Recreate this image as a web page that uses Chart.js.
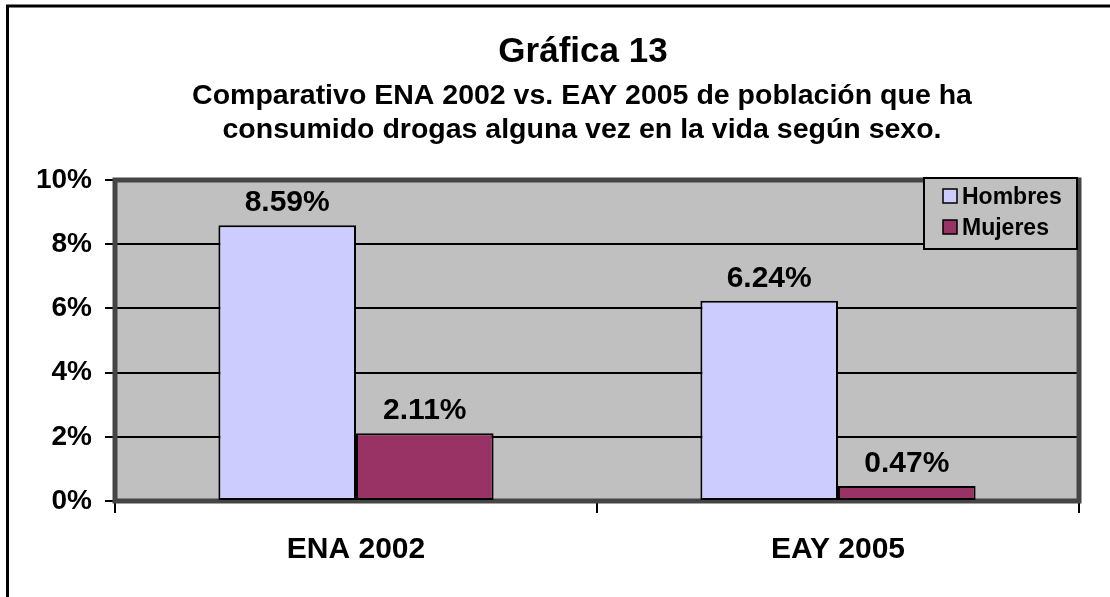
<!DOCTYPE html>
<html>
<head>
<meta charset="utf-8">
<script src="https://cdn.jsdelivr.net/npm/chart.js@4.4.1/dist/chart.umd.min.js"></script>
<style>
  html, body { margin: 0; padding: 0; background: #fff; }
  #wrap { width: 1110px; height: 597px; position: relative; }
</style>
</head>
<body>
<div id="wrap"><canvas id="grafica13"></canvas></div>
<script>
// datos de la grafica
var categorias = ['ENA 2002', 'EAY 2005'];
var hombres = [8.59, 6.24];
var mujeres = [2.11, 0.47];
var ticksY = [0, 2, 4, 6, 8, 10];
var titulo = 'Gráfica 13';
var subtitulo = ['Comparativo ENA 2002 vs. EAY 2005 de población que ha',
                 'consumido drogas alguna vez en la vida según sexo.'];

var fuente = "'Liberation Sans', Arial, Helvetica, sans-serif";
Chart.defaults.font.family = fuente;
Chart.defaults.color = '#000';

// marco exterior, fondo gris y borde del area de trazado
var fondoPlugin = {
    id: 'fondo',
    beforeDraw: function(chart){
        var ctx = chart.ctx;
        var a = chart.chartArea;
        ctx.save();
        ctx.fillStyle = '#fff';
        ctx.fillRect(0, 0, chart.width, chart.height);
        ctx.strokeStyle = '#000';
        ctx.lineWidth = 3;
        ctx.beginPath();
        ctx.moveTo(7.5, chart.height + 5);
        ctx.lineTo(7.5, 6);
        ctx.lineTo(chart.width + 5, 6);
        ctx.stroke();
        ctx.fillStyle = '#c0c0c0';
        ctx.fillRect(a.left, a.top, a.right - a.left, a.bottom - a.top);
        ctx.restore();
    },
    beforeDatasetsDraw: function(chart){
        var ctx = chart.ctx;
        var a = chart.chartArea;
        ctx.save();
        ctx.strokeStyle = '#454545';
        ctx.lineWidth = 5;
        ctx.strokeRect(a.left, a.top, a.right - a.left, a.bottom - a.top);
        ctx.restore();
    }
};

// titulo centrado sobre el objeto original (se sale por la derecha)
var tituloPlugin = {
    id: 'titulo',
    afterDraw: function(chart){
        var ctx = chart.ctx;
        var cx = 582;
        ctx.save();
        ctx.fillStyle = '#000';
        ctx.textAlign = 'center';
        ctx.textBaseline = 'alphabetic';
        ctx.font = 'bold 35px ' + fuente;
        ctx.fillText(titulo, cx + 1, 62);
        ctx.font = 'bold 28.5px ' + fuente;
        subtitulo.forEach(function(linea, i){
            ctx.fillText(linea, cx, 104 + i * 34);
        });
        ctx.restore();
    }
};

// etiquetas de valor encima de cada barra
var etiquetasPlugin = {
    id: 'etiquetas',
    afterDatasetsDraw: function(chart){
        var ctx = chart.ctx;
        ctx.save();
        ctx.font = 'bold 30px ' + fuente;
        ctx.fillStyle = '#000';
        ctx.textAlign = 'center';
        ctx.textBaseline = 'alphabetic';
        chart.data.datasets.forEach(function(ds, i){
            chart.getDatasetMeta(i).data.forEach(function(bar, j){
                ctx.fillText(ds.data[j].toFixed(2) + '%', bar.x, bar.y - 14);
            });
        });
        ctx.restore();
    }
};

// leyenda dentro del area de trazado, esquina superior derecha
var leyendaPlugin = {
    id: 'leyenda',
    afterDraw: function(chart){
        var ctx = chart.ctx;
        var a = chart.chartArea;
        var w = 153, h = 71;
        var x = a.right - 2 - w, y = a.top - 2;
        ctx.save();
        ctx.fillStyle = '#c0c0c0';
        ctx.fillRect(x, y, w, h);
        ctx.strokeStyle = '#000';
        ctx.lineWidth = 2;
        ctx.strokeRect(x, y, w, h);
        ctx.font = 'bold 23px ' + fuente;
        ctx.textBaseline = 'alphabetic';
        ctx.textAlign = 'left';
        chart.data.datasets.forEach(function(ds, i){
            var cy = y + 18 + i * 31;
            ctx.fillStyle = ds.backgroundColor;
            ctx.fillRect(x + 19, cy - 7, 14, 14);
            ctx.lineWidth = 1.5;
            ctx.strokeStyle = '#000';
            ctx.strokeRect(x + 19, cy - 7, 14, 14);
            ctx.fillStyle = '#000';
            ctx.fillText(ds.label, x + 38, cy + 8);
        });
        ctx.restore();
    }
};

var ctxGrafica = document.getElementById('grafica13');

new Chart(ctxGrafica, {
    type: 'bar',
    data: {
        labels: categorias,
        datasets: [{
            label: 'Hombres',
            data: hombres,
            backgroundColor: '#ccccff',
            borderColor: '#000',
            borderWidth: 2,
            borderSkipped: false
        }, {
            label: 'Mujeres',
            data: mujeres,
            backgroundColor: '#993366',
            borderColor: '#000',
            borderWidth: 2,
            borderSkipped: false
        }]
    },
    options: {
        responsive: true,
        maintainAspectRatio: false,
        animation: false,
        datasets: {
            bar: { categoryPercentage: 0.571, barPercentage: 1 }
        },
        layout: { padding: { left: 10, right: 31, top: 180, bottom: 0 } },
        plugins: {
            legend: { display: false },
            tooltip: { enabled: false },
            title: { display: false },
            subtitle: { display: false }
        },
        scales: {
            x: {
                grid: {
                    offset: true,
                    drawOnChartArea: false,
                    color: '#000',
                    lineWidth: 2,
                    tickLength: 12
                },
                border: { display: false },
                ticks: {
                    font: { size: 30, weight: 'bold' },
                    color: '#000',
                    padding: 19
                },
                afterFit: function(scale){ scale.height = 96; }
            },
            y: {
                min: 0,
                max: 10,
                afterBuildTicks: function(scale){
                    scale.ticks = ticksY.map(function(v){ return { value: v }; });
                },
                grid: {
                    color: '#000',
                    lineWidth: 2,
                    tickLength: 10
                },
                border: { display: true, color: '#000', width: 2 },
                ticks: {
                    font: { size: 28, weight: 'bold' },
                    color: '#000',
                    padding: 13,
                    callback: function(v){ return v + '%'; }
                },
                afterFit: function(scale){ scale.width = 105; }
            }
        }
    },
    plugins: [fondoPlugin, tituloPlugin, etiquetasPlugin, leyendaPlugin]
});
</script>
</body>
</html>
